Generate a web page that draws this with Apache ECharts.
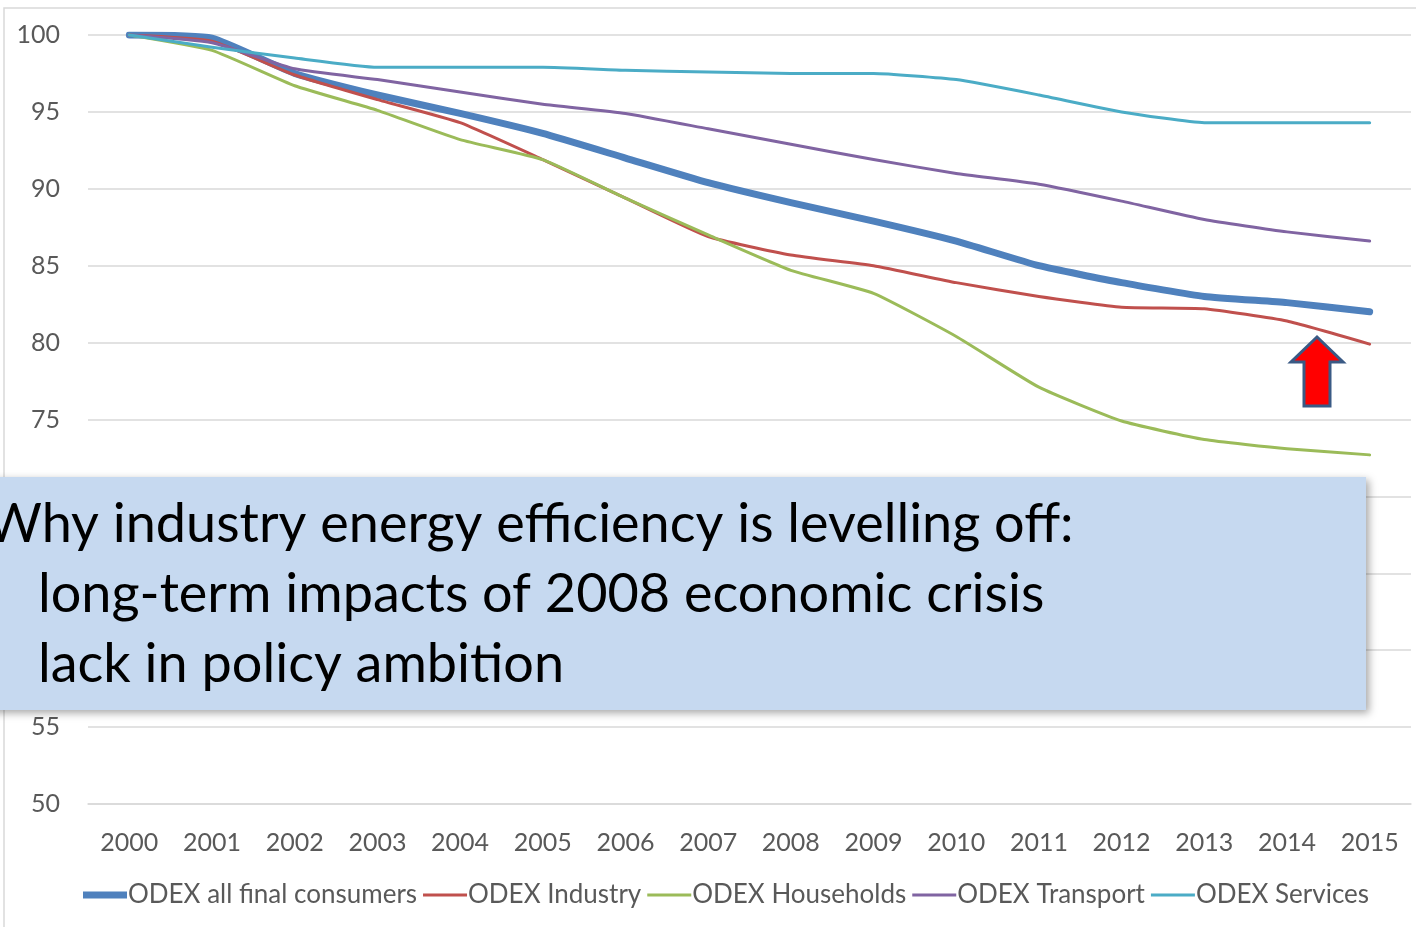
<!DOCTYPE html>
<html>
<head>
<meta charset="utf-8">
<script src="https://cdn.jsdelivr.net/npm/echarts@6/dist/echarts.min.js"></script>
<style>
  html, body { margin: 0; padding: 0; background: #ffffff; }
  #chart { width: 1416px; height: 927px; }
</style>
</head>
<body>
<div id="chart"></div>
<script>
// ODEX energy-efficiency index (2000 = 100) by sector
const years = ['2000','2001','2002','2003','2004','2005','2006','2007','2008','2009','2010','2011','2012','2013','2014','2015'];

const allFinal   = [100, 99.8, 97.5, 96.1, 94.9, 93.6, 92.0, 90.4, 89.1, 87.9, 86.6, 85.0, 83.9, 83.0, 82.6, 82.0];
const industry   = [100, 99.6, 97.4, 95.8, 94.3, 91.9, 89.4, 86.9, 85.7, 85.0, 83.9, 83.0, 82.3, 82.2, 81.4, 79.9];
const households = [100, 99.0, 96.7, 95.1, 93.2, 91.9, 89.4, 87.0, 84.7, 83.2, 80.4, 77.1, 74.9, 73.7, 73.1, 72.7];
const transport  = [100, 99.5, 97.8, 97.1, 96.3, 95.5, 94.9, 93.9, 92.9, 91.9, 91.0, 90.3, 89.2, 88.0, 87.2, 86.6];
const services   = [100, 99.2, 98.5, 97.9, 97.9, 97.9, 97.7, 97.6, 97.5, 97.5, 97.1, 96.1, 95.0, 94.3, 94.3, 94.3];

const yTicks = { min: 50, max: 100, step: 5 };

const seriesNames = ['ODEX all final consumers', 'ODEX Industry', 'ODEX Households', 'ODEX Transport', 'ODEX Services'];
const seriesColors = ['#4F81BD', '#C0504D', '#9BBB59', '#8064A2', '#4BACC6'];
const seriesWidths = [7, 3, 3, 3, 3];
const seriesData = [allFinal, industry, households, transport, services];

const calloutLines = [
  'Why industry energy efficiency is levelling off:',
  'long-term impacts of 2008 economic crisis',
  'lack in policy ambition'
];

const font = 'Lato, "Open Sans", sans-serif';
const chart = echarts.init(document.getElementById('chart'), null, { renderer: 'canvas' });

const series = seriesNames.map((name, i) => ({
  name: name,
  type: 'line',
  data: seriesData[i],
  showSymbol: false,
  symbol: 'none',
  smooth: 0.15,
  z: 2,
  lineStyle: { color: seriesColors[i], width: seriesWidths[i], cap: 'round', join: 'round' },
  itemStyle: { color: seriesColors[i] },
  emphasis: { disabled: true }
}));

// legend swatches: a bar as thick as the series line
const legendData = seriesNames.map((name, i) => ({
  name: name,
  icon: 'path://M0,0 H44 V' + seriesWidths[i] + ' H0 Z',
  itemStyle: { color: seriesColors[i], borderWidth: 0 }
}));

chart.setOption({
  animation: false,
  backgroundColor: '#ffffff',
  grid: { left: 88, right: 5, top: 35, bottom: 123, containLabel: false },
  xAxis: {
    type: 'category',
    data: years,
    boundaryGap: true,
    axisLine: { show: true, lineStyle: { color: '#d9d9d9', width: 1.5 } },
    axisTick: { show: false },
    axisLabel: { color: '#595959', fontFamily: font, fontSize: 25, margin: 26 }
  },
  yAxis: {
    type: 'value',
    min: yTicks.min,
    max: yTicks.max,
    interval: yTicks.step,
    axisLine: { show: false },
    axisTick: { show: false },
    axisLabel: { color: '#595959', fontFamily: font, fontSize: 25, margin: 28 },
    splitLine: { show: true, lineStyle: { color: '#d9d9d9', width: 1.5 } }
  },
  legend: {
    show: true,
    bottom: 14,
    left: 78,
    itemWidth: 44,
    itemHeight: 8,
    itemGap: 6,
    symbolKeepAspect: true,
    textStyle: { color: '#595959', fontFamily: font, fontSize: 26, padding: [0, 0, 0, -4] },
    data: legendData
  },
  series: series,
  graphic: [
    {
      type: 'rect',
      silent: true,
      z: 0,
      shape: { x: 4, y: 8, width: 1430, height: 940 },
      style: { fill: 'none', stroke: '#d9d9d9', lineWidth: 1.5 }
    },
    {
      type: 'polygon',
      z: 50,
      silent: true,
      shape: {
        points: [[1317, 337], [1343, 362], [1330, 362], [1330, 406], [1304, 406], [1304, 362], [1291, 362]]
      },
      style: { fill: '#FF0000', stroke: '#3A5A85', lineWidth: 3, lineJoin: 'miter' }
    },
    {
      type: 'group',
      zlevel: 1,
      z: 100,
      silent: true,
      children: [
        {
          type: 'rect',
          zlevel: 1,
          shape: { x: -20, y: 477, width: 1386, height: 233 },
          style: {
            fill: '#C6D9F0',
            shadowBlur: 8,
            shadowColor: 'rgba(0,0,0,0.35)',
            shadowOffsetX: 3,
            shadowOffsetY: 3
          }
        },
        {
          type: 'text',
          zlevel: 1,
          x: -14, y: 525,
          style: { text: calloutLines[0], fill: '#000000', font: '54px ' + font, verticalAlign: 'middle' }
        },
        {
          type: 'text',
          zlevel: 1,
          x: 38, y: 595,
          style: { text: calloutLines[1], fill: '#000000', font: '54px ' + font, verticalAlign: 'middle' }
        },
        {
          type: 'text',
          zlevel: 1,
          x: 38, y: 665,
          style: { text: calloutLines[2], fill: '#000000', font: '54px ' + font, verticalAlign: 'middle' }
        }
      ]
    }
  ]
});
</script>
</body>
</html>
